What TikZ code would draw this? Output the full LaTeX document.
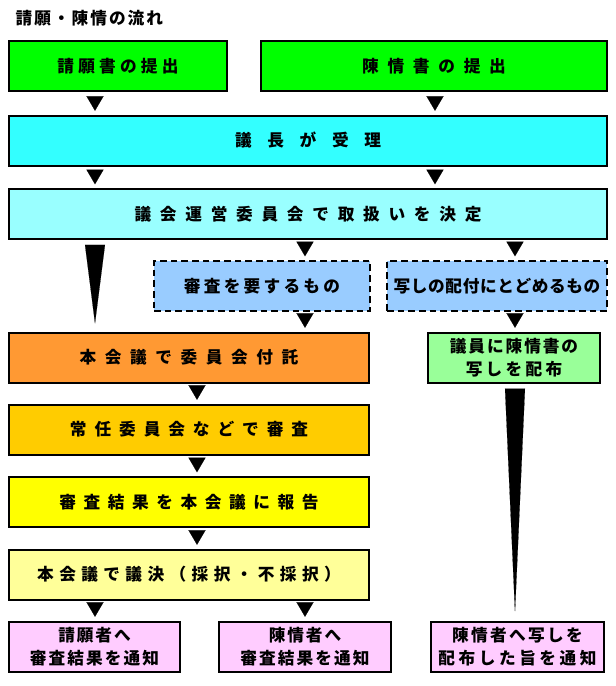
\documentclass[tikz,border=0pt]{standalone}
\usepackage{fontspec}
\newfontfamily\jp{Noto Sans CJK JP}
\usetikzlibrary{arrows.meta}

\definecolor{teishutsu}{HTML}{00FF00}
\definecolor{juri}{HTML}{33FFFF}
\definecolor{giun}{HTML}{99FFFF}
\definecolor{bunki}{HTML}{99CCFF}
\definecolor{futaku}{HTML}{FF9933}
\definecolor{jonin}{HTML}{FFCC00}
\definecolor{hokoku}{HTML}{FFFF00}
\definecolor{giketsu}{HTML}{FFFF99}
\definecolor{haifu}{HTML}{99FF99}
\definecolor{tsuchi}{HTML}{FFCCFF}

\ExplSyntaxOn
\NewDocumentCommand \spread { m m }
  {
    \bool_set_true:N \l_tmpa_bool
    \tl_map_inline:nn {#2}
      {
        \bool_if:NF \l_tmpa_bool { \hspace{#1} }
        \bool_set_false:N \l_tmpa_bool
        ##1
      }
  }
\ExplSyntaxOff

\begin{document}
\begin{tikzpicture}[x=0.75pt, y=-0.75pt,
    flowbox/.style={draw, line width=1.5pt, inner sep=0pt, minimum height=37.5pt, align=center,
        font=\jp\bfseries\fontsize{12.5pt}{17pt}\selectfont},
    dashbox/.style={flowbox, dash pattern=on 5pt off 3pt},
    flowtip/.style={draw=white, line width=0.1pt, shorten <=2.6pt, shorten >=2.8pt,
        -{Triangle[color=black, width=12.75pt, length=10.9pt]}},
    taper/.style={draw=white, line width=0.1pt, shorten <=5pt, shorten >=6pt,
        -{Triangle[color=black, width=15pt, length=#1]}}]
    \useasboundingbox (0,0) rectangle (615,686);

    \node[anchor=west, font=\jp\bfseries\fontsize{12.5pt}{14pt}\selectfont] (title) at (11,18) {\spread{1.5pt}{請願・陳情の流れ}};

    \node[flowbox, fill=teishutsu, minimum width=163.5pt] (seigan) at (118,66) {\spread{3.15pt}{請願書の提出}};
    \node[flowbox, fill=teishutsu, minimum width=259.5pt] (chinjo) at (434,66) {\spread{6.55pt}{陳情書の提出}};
    \node[flowbox, fill=juri, minimum width=448.5pt] (gicho) at (308,140.5) {\spread{11.75pt}{議長が受理}};
    \node[flowbox, fill=giun, minimum width=448.5pt] (giun) at (308,214) {\spread{6.55pt}{議会運営委員会で取扱いを決定}};
    \node[dashbox, fill=bunki, minimum width=162pt] (shinsa) at (262,286) {\spread{2.45pt}{審査を要するもの}};
    \node[dashbox, fill=bunki, minimum width=165pt] (utsushi) at (497,286) {\spread{0.45pt}{写しの配付にとどめるもの}};
    \node[flowbox, fill=futaku, minimum width=270pt] (fuku) at (189,357.5) {\spread{6.45pt}{本会議で委員会付託}};
    \node[flowbox, fill=haifu, minimum width=129pt] (haifu) at (514,357.5) {\spread{1.45pt}{議員に陳情書の}\\\spread{2.45pt}{写しを配布}};
    \node[flowbox, fill=jonin, minimum width=270pt] (jonin) at (189,429.5) {\spread{5.95pt}{常任委員会などで審査}};
    \node[flowbox, fill=hokoku, minimum width=270pt] (hokoku) at (189,502) {\spread{5.7pt}{審査結果を本会議に報告}};
    \node[flowbox, fill=giketsu, minimum width=270pt] (giketsu) at (189,574.5) {\spread{4.05pt}{本会議で議決（採択・不採択）}};
    \node[flowbox, fill=tsuchi, minimum width=128.25pt] (tsuchiA) at (94.5,646.5) {\spread{1.45pt}{請願者へ}\\\spread{1.55pt}{審査結果を通知}};
    \node[flowbox, fill=tsuchi, minimum width=129pt] (tsuchiB) at (305,646.5) {\spread{1.45pt}{陳情者へ}\\\spread{1.55pt}{審査結果を通知}};
    \node[flowbox, fill=tsuchi, minimum width=129.75pt] (tsuchiC) at (517.5,646.5) {\spread{1.75pt}{陳情者へ写しを}\\\spread{2.65pt}{配布した旨を通知}};

    \coordinate (colA) at (95,0);
    \coordinate (colB) at (435,0);
    \coordinate (colC) at (305,0);
    \coordinate (colD) at (515,0);
    \coordinate (colE) at (197,0);

    \draw[flowtip] (seigan.south -| colA) -- (gicho.north -| colA);
    \draw[flowtip] (chinjo.south -| colB) -- (gicho.north -| colB);
    \draw[flowtip] (gicho.south -| colA) -- (giun.north -| colA);
    \draw[flowtip] (gicho.south -| colB) -- (giun.north -| colB);
    \draw[flowtip] (giun.south -| colC) -- (shinsa.north -| colC);
    \draw[flowtip] (giun.south -| colD) -- (utsushi.north -| colD);
    \draw[taper=59pt] (giun.south -| colA) -- (fuku.north -| colA);
    \draw[flowtip] (shinsa.south -| colC) -- (fuku.north -| colC);
    \draw[flowtip] (utsushi.south -| colD) -- (haifu.north -| colD);
    \draw[flowtip] (fuku.south -| colE) -- (jonin.north -| colE);
    \draw[flowtip] (jonin.south -| colE) -- (hokoku.north -| colE);
    \draw[flowtip] (hokoku.south -| colE) -- (giketsu.north -| colE);
    \draw[flowtip] (giketsu.south -| colA) -- (tsuchiA.north -| colA);
    \draw[flowtip] (giketsu.south -| colC) -- (tsuchiB.north -| colC);
    \draw[taper=168pt] (haifu.south -| colD) -- (tsuchiC.north -| colD);
\end{tikzpicture}
\end{document}
